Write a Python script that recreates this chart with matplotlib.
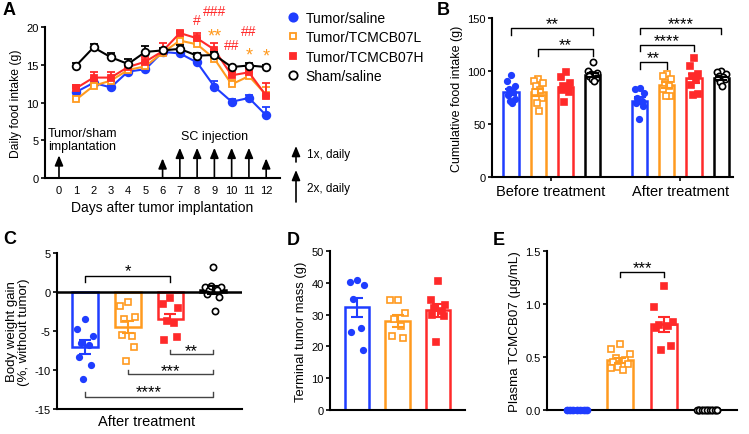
import matplotlib
matplotlib.use('Agg')
import matplotlib.pyplot as plt
import numpy as np
from matplotlib.lines import Line2D
from matplotlib.patches import FancyArrowPatch

plt.rcParams['font.family'] = ['Liberation Sans', 'DejaVu Sans']
plt.rcParams['axes.unicode_minus'] = False

# colours of the four groups
BLUE = '#1f3dff'
ORANGE = '#ff9a1f'
RED = '#ff2a2a'
BLACK = '#000000'

# ---------------- panel A data ----------------
days = [1, 2, 3, 4, 5, 6, 7, 8, 9, 10, 11, 12]
a_saline = [11.4, 12.6, 12.0, 14.1, 14.4, 16.7, 16.5, 15.3, 12.1, 10.1, 10.6, 8.3]
a_low = [10.4, 12.2, 12.9, 14.3, 14.8, 16.6, 18.2, 17.7, 15.8, 12.4, 13.5, 11.0]
a_high = [11.9, 13.3, 13.3, 14.7, 15.4, 16.8, 19.2, 18.5, 17.0, 13.6, 14.0, 10.9]
a_sham = [14.9, 17.3, 16.0, 15.1, 16.7, 16.9, 17.1, 16.2, 16.3, 14.7, 14.9, 14.7]
a_saline_err = [0.6, 0.5, 0.3, 0.3, 0.3, 0.3, 0.3, 0.3, 0.8, 0.4, 0.4, 1.1]
a_low_err = [0.4, 0.4, 0.5, 0.3, 0.4, 0.4, 0.5, 0.6, 0.8, 0.6, 0.7, 1.0]
a_high_err = [0.4, 0.8, 0.7, 0.4, 0.6, 1.1, 0.3, 0.7, 0.9, 0.5, 0.5, 1.7]
a_sham_err = [0.3, 0.4, 0.5, 0.6, 0.8, 0.3, 0.5, 0.4, 0.4, 0.3, 0.3, 0.3]
implant_day = 0
once_daily = [6, 12]
twice_daily = [7, 8, 9, 10, 11]
# significance marks: (day, y, text, colour)
a_marks = [(8, 20.4, '#', RED), (9, 21.6, '###', RED), (9, 18.2, '**', ORANGE),
           (10, 17.1, '##', RED), (11, 18.9, '##', RED),
           (11, 15.7, '*', ORANGE), (12, 15.6, '*', ORANGE)]

# ---------------- panel B data ----------------
b_groups = ['Before treatment', 'After treatment']
b_before_pts = [
    [96, 91, 86, 83, 80, 77, 74, 72, 70],
    [92, 91, 89, 86, 82.5, 80, 75, 70, 62],
    [99, 94.5, 89, 86, 84, 82, 80, 70.6],
    [108.7, 100, 98.5, 97, 96, 95, 93, 92, 91],
]
b_after_pts = [
    [83.8, 83, 79, 75, 72, 69.6, 67, 55],
    [97, 95.5, 92, 89, 86, 83, 76.7, 76],
    [112, 105, 97, 95, 92.5, 86.7, 78, 77.5],
    [100, 99, 97, 95, 94, 93, 92.5, 90, 86],
]
b_before_mean = [80, 80, 85, 96]
b_before_sem = [3, 3.3, 3, 2]
b_after_mean = [72, 87, 93, 93]
b_after_sem = [3.2, 3, 4.5, 1.5]

# ---------------- panel C data ----------------
c_pts = [
    [-3.4, -4.7, -5.6, -6.6, -6.8, -8.3, -9.4, -11.1],
    [-1.3, -1.8, -3.2, -3.5, -5.6, -5.5, -7.0, -8.8],
    [-0.8, -1.6, -2.1, -3.7, -4.0, -6.2, -5.8],
    [3.2, 0.7, 0.6, 0.3, 0.2, -0.2, -0.6, 0.8, -2.4],
]
c_mean = [-7.0, -4.5, -3.4, 0.3]
c_sem = [0.9, 0.8, 0.6, 0.5]

# ---------------- panel D data ----------------
d_pts = [
    [41, 40.2, 39.3, 35, 25.7, 24.4, 19],
    [34.5, 34.5, 30.5, 28.5, 26.3, 23.3, 22.5],
    [40.5, 34.5, 33, 32, 31, 30, 29.5, 21.3],
]
d_mean = [32.3, 28.0, 31.3]
d_sem = [3.0, 1.9, 2.1]

# ---------------- panel E data ----------------
e_pts = [
    [0, 0, 0, 0, 0, 0, 0],
    [0.62, 0.58, 0.53, 0.49, 0.47, 0.45, 0.43, 0.41, 0.38, 0.40],
    [1.17, 0.97, 0.83, 0.80, 0.79, 0.77, 0.60, 0.57],
    [0, 0, 0, 0, 0, 0, 0, 0, 0],
]
e_mean = [0, 0.47, 0.81, 0]
e_sem = [0, 0.025, 0.07, 0]

colors = [BLUE, ORANGE, RED, BLACK]
markers = ['o', 's', 's', 'o']
filled = [True, False, True, False]
labels = ['Tumor/saline', 'Tumor/TCMCB07L', 'Tumor/TCMCB07H', 'Sham/saline']


def style(ax):
    for s in ['top', 'right']:
        ax.spines[s].set_visible(False)
    for s in ['left', 'bottom']:
        ax.spines[s].set_linewidth(1.5)
    ax.tick_params(axis='y', labelsize=8, length=3, width=1.2, pad=1.5)
    ax.tick_params(axis='x', labelsize=8, length=0)


def jitter(n, spread):
    pattern = np.array([0, -1, 1, -0.5, 0.5, -0.8, 0.8, -0.25, 0.25, -1])
    return np.resize(pattern, n) * spread


def bars(ax, pos, means, sems, pts, cols, mks, fills, width=0.6, spread=0.18):
    for x, m, e, p, c, mk, f in zip(pos, means, sems, pts, cols, mks, fills):
        ax.bar(x, m, width=width, facecolor='none', edgecolor=c, linewidth=1.8, zorder=2)
        ax.errorbar(x, m, yerr=e, fmt='none', ecolor=c, elinewidth=1.5,
                    capsize=4, capthick=1.5, zorder=4)
        ms = 4 if (mk == 'o' and f) else 4.5
        ax.plot(x + jitter(len(p), spread * width / 0.6), p, ls='none', marker=mk,
                ms=ms, mfc=c if f else 'white', mec=c, mew=1.2, zorder=3, clip_on=False)


def bracket(ax, x1, x2, y, tip, text, up=False, color='k', fs=12, dy=0):
    t = tip if up else -tip
    ax.plot([x1, x1, x2, x2], [y + t, y, y, y + t], color=color, lw=1, clip_on=False)
    ax.annotate(text, xy=((x1 + x2) / 2, y), xytext=(0, dy), textcoords='offset points',
                ha='center', va='baseline', fontsize=fs, annotation_clip=False)


fig = plt.figure(figsize=(7.49, 4.35), dpi=100)

# ---------------- panel A ----------------
axA = fig.add_axes([45 / 749, 1 - 179 / 435, 235 / 749, 151 / 435])
style(axA)
series = [(a_saline, a_saline_err), (a_low, a_low_err), (a_high, a_high_err), (a_sham, a_sham_err)]
order = [3, 0, 1, 2]
for i in order:
    v, e = series[i]
    axA.errorbar(days, v, yerr=[np.zeros(len(e)), e], color=colors[i], marker=markers[i],
                 ms=5.5 if markers[i] == 'o' else 5, mfc=colors[i] if filled[i] else 'white',
                 mec=colors[i], mew=1.3, lw=1.5, elinewidth=1.3, capsize=3, capthick=1.3,
                 zorder=3 + i)
axA.set_xlim(-0.81, 12.8)
axA.set_ylim(0, 20)
axA.set_yticks([0, 5, 10, 15, 20])
axA.set_xticks(range(0, 13))
axA.tick_params(axis='x', pad=5)
axA.set_xlabel('Days after tumor implantation', fontsize=10, labelpad=4)
axA.set_ylabel('Daily food intake (g)', fontsize=8.7, labelpad=3)

arrow_kw = dict(arrowstyle='-|>,head_width=0.25,head_length=0.6', color='k', lw=1.2,
                shrinkA=0, shrinkB=0, mutation_scale=10)
axA.annotate('', xy=(implant_day, 3.0), xytext=(implant_day, 0), arrowprops=arrow_kw,
             annotation_clip=False)
for d in once_daily:
    axA.annotate('', xy=(d, 2.6), xytext=(d, 0), arrowprops=arrow_kw, annotation_clip=False)
for d in twice_daily:
    axA.annotate('', xy=(d, 4.0), xytext=(d, 0), arrowprops=arrow_kw, annotation_clip=False)
axA.text(-0.65, 6.7, 'Tumor/sham\nimplantation', fontsize=9, ha='left', va='top', linespacing=1.05)
axA.text(9.0, 5.6, 'SC injection', fontsize=9, ha='center', va='center')
for d, y, t, c in a_marks:
    fs = 10 if '#' in t else 13
    axA.text(d, y, t, color=c, fontsize=fs, ha='center', va='baseline', clip_on=False)

handles = [Line2D([], [], ls='none', marker=markers[i], color=colors[i], ms=6 if markers[i] == 'o' else 5,
                  mfc=colors[i] if filled[i] else 'white', mec=colors[i], mew=1.3) for i in range(4)]
fig.legend(handles, labels, loc='upper left', bbox_to_anchor=(286 / 749, 1 - 12 / 435),
           frameon=False, fontsize=10, handlelength=1.0, handletextpad=0.4,
           labelspacing=0.38, borderaxespad=0, borderpad=0)

fig_arrow = dict(arrowstyle='-|>,head_width=0.25,head_length=0.6', color='k', lw=1.2,
                 shrinkA=0, shrinkB=0, mutation_scale=10)
fig.add_artist(FancyArrowPatch((296 / 749, 1 - 163 / 435), (296 / 749, 1 - 147 / 435),
                               transform=fig.transFigure, **fig_arrow))
fig.add_artist(FancyArrowPatch((296 / 749, 1 - 203 / 435), (296 / 749, 1 - 171 / 435),
                               transform=fig.transFigure, **fig_arrow))
fig.text(307 / 749, 1 - 155 / 435, '1x, daily', fontsize=8.5, va='center')
fig.text(307 / 749, 1 - 189 / 435, '2x, daily', fontsize=8.5, va='center')

# ---------------- panel B ----------------
axB = fig.add_axes([492 / 749, 1 - 178 / 435, 241 / 749, 159 / 435])
style(axB)
pos_before = np.arange(4)
pos_after = np.arange(4) + 4.72
bars(axB, pos_before, b_before_mean, b_before_sem, b_before_pts, colors, markers, filled, width=0.56, spread=0.17)
bars(axB, pos_after, b_after_mean, b_after_sem, b_after_pts, colors, markers, filled, width=0.56, spread=0.17)
axB.set_xlim(-0.7, 8.15)
axB.set_ylim(0, 150)
axB.set_yticks([0, 50, 100, 150])
axB.set_xticks([1.47, 6.22])
axB.set_xticklabels(b_groups, fontsize=10.5)
axB.tick_params(axis='x', length=3, width=1.2, pad=2)
axB.set_ylabel('Cumulative food intake (g)', fontsize=9, labelpad=3)
bracket(axB, pos_before[0], pos_before[3], 140.6, 6.3, '**')
bracket(axB, pos_before[1], pos_before[3], 120.8, 6.3, '**')
bracket(axB, pos_after[0], pos_after[3], 140.9, 6.3, '****')
bracket(axB, pos_after[0], pos_after[2], 124.8, 6.3, '****')
bracket(axB, pos_after[0], pos_after[1], 108.2, 6.3, '**')

# ---------------- panel C ----------------
axC = fig.add_axes([57 / 749, 1 - 410 / 435, 185 / 749, 156 / 435])
style(axC)
pos_c = np.arange(4)
bars(axC, pos_c, c_mean, c_sem, c_pts, colors, markers, filled)
axC.axhline(0, color='k', lw=1.8, zorder=5)
axC.set_xlim(-0.66, 3.68)
axC.set_ylim(-15, 5)
axC.set_yticks([-15, -10, -5, 0, 5])
axC.set_xticks([1.45])
axC.set_xticklabels(['After treatment'], fontsize=10.5)
axC.set_ylabel('Body weight gain\n(%, without tumor)', fontsize=9.5, labelpad=3, linespacing=1.05)
bracket(axC, 0, 2, 2.1, 0.8, '*')
bracket(axC, 2, 3, -7.95, 0.55, '**', up=True, color='#444444', dy=-1)
bracket(axC, 1, 3, -10.5, 0.55, '***', up=True, color='#444444', dy=-1)
bracket(axC, 0, 3, -13.4, 0.55, '****', up=True, color='#444444', dy=0)

# ---------------- panel D ----------------
axD = fig.add_axes([330 / 749, 1 - 411 / 435, 135 / 749, 159 / 435])
style(axD)
pos_d = np.arange(3)
bars(axD, pos_d, d_mean, d_sem, d_pts, colors[:3], markers[:3], filled[:3])
axD.set_xlim(-0.67, 2.67)
axD.set_ylim(0, 50)
axD.set_yticks([0, 10, 20, 30, 40, 50])
axD.set_xticks([])
axD.set_ylabel('Terminal tumor mass (g)', fontsize=9.4, labelpad=3)

# ---------------- panel E ----------------
axE = fig.add_axes([547 / 749, 1 - 411 / 435, 190 / 749, 159 / 435])
style(axE)
pos_e = np.arange(4)
bars(axE, pos_e, e_mean, e_sem, e_pts, colors, markers, filled, spread=0.22)
for x, p, c, mk, f in zip(pos_e, e_pts, colors, markers, filled):
    if max(p) == 0:
        axE.plot(np.linspace(-0.24, 0.24, len(p)) + x, p, ls='none', marker=mk, ms=4.3,
                 mfc=c if f else 'white', mec=c, mew=1.2, zorder=4, clip_on=False)
axE.set_xlim(-0.69, 3.69)
axE.set_ylim(0, 1.5)
axE.set_yticks([0, 0.5, 1.0, 1.5])
axE.set_yticklabels(['0.0', '0.5', '1.0', '1.5'])
axE.set_xticks([])
axE.set_ylabel('Plasma TCMCB07 (\u03bcg/mL)', fontsize=9.6, labelpad=3)
bracket(axE, 1, 2, 1.305, 0.047, '***')

# panel letters
for x, y, t in [(3, 15, 'A'), (437, 15, 'B'), (3, 244, 'C'), (287, 245, 'D'), (493, 245, 'E')]:
    fig.text(x / 749, 1 - y / 435, t, fontsize=13, fontweight='bold', va='baseline')

fig.savefig('out.png', dpi=100)
